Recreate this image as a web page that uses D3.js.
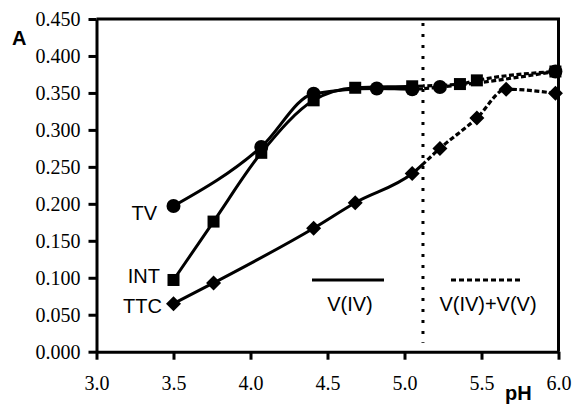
<!DOCTYPE html>
<html><head><meta charset="utf-8">
<script src="https://cdn.jsdelivr.net/npm/d3@7"></script>
<style>body{margin:0;background:#fff}svg{display:block}
.tk text{font-family:"Liberation Serif","Times New Roman",serif;font-size:20px;fill:#000}
.sn{font-family:"Liberation Sans",Arial,sans-serif;font-size:20px;fill:#000}
</style>
</head><body>
<svg id="c" width="574" height="408"></svg>
<script>
const xTicks = [3.0, 3.5, 4.0, 4.5, 5.0, 5.5, 6.0];
const yTicks = [0, 0.05, 0.1, 0.15, 0.2, 0.25, 0.3, 0.35, 0.4, 0.45];
const tvPH = [3.5, 4.07, 4.41, 4.82, 5.05, 5.23, 5.98];
const tvA = [0.197, 0.277, 0.349, 0.356, 0.355, 0.358, 0.379];
const intPH = [3.5, 3.76, 4.07, 4.41, 4.68, 5.05, 5.36, 5.47, 5.98];
const intA = [0.097, 0.176, 0.269, 0.340, 0.357, 0.359, 0.362, 0.367, 0.379];
const ttcPH = [3.5, 3.76, 4.41, 4.68, 5.05, 5.23, 5.47, 5.66, 5.98];
const ttcA = [0.065, 0.093, 0.167, 0.2015, 0.241, 0.275, 0.316, 0.355, 0.3495];
const splitPH = 5.12;
const seriesNames = ["TV", "INT", "TTC"];
const legendLabels = ["V(IV)", "V(IV)+V(V)"];

const svg = d3.select("#c");
const x = d3.scaleLinear().domain([3, 6]).range([96.5, 558.5]);
const y = d3.scaleLinear().domain([0, 0.45]).range([351.7, 19]);

svg.append("line").attr("x1", x(3)).attr("x2", x(6) + 1.5).attr("y1", y(0.45)).attr("y2", y(0.45)).attr("stroke", "#000").attr("stroke-width", 3);
svg.append("line").attr("x1", x(6)).attr("x2", x(6)).attr("y1", y(0.45)).attr("y2", y(0)).attr("stroke", "#000").attr("stroke-width", 3);

const ax = svg.append("g").attr("class", "tk").attr("transform", `translate(0,${y(0)})`)
  .call(d3.axisBottom(x).tickValues(xTicks).tickFormat(d3.format(".1f")).tickSize(8).tickSizeOuter(0).tickPadding(16));
const ay = svg.append("g").attr("class", "tk").attr("transform", `translate(${x(3)},0)`)
  .call(d3.axisLeft(y).tickValues(yTicks).tickFormat(d3.format(".3f")).tickSize(8).tickSizeOuter(0).tickPadding(8));
[ax, ay].forEach(g => {
  g.attr("font-family", null).attr("font-size", null);
  g.selectAll("path,line").attr("stroke", "#000").attr("stroke-width", 3);
});

svg.append("line").attr("x1", x(splitPH)).attr("x2", x(splitPH)).attr("y1", y(0.45) + 4).attr("y2", y(0.012))
  .attr("stroke", "#000").attr("stroke-width", 3).attr("stroke-dasharray", "3,8");

const defs = svg.append("defs");
defs.append("clipPath").attr("id", "left").append("rect").attr("x", 0).attr("y", 0).attr("width", x(splitPH)).attr("height", 408);
defs.append("clipPath").attr("id", "right").append("rect").attr("x", x(splitPH)).attr("y", 0).attr("width", 574 - x(splitPH)).attr("height", 408);

const line = d3.line().x(d => x(d[0])).y(d => y(d[1])).curve(d3.curveMonotoneX);
const series = [
  {name: "TV", pts: d3.zip(tvPH, tvA), shape: "circle"},
  {name: "INT", pts: d3.zip(intPH, intA), shape: "square"},
  {name: "TTC", pts: d3.zip(ttcPH, ttcA), shape: "diamond"}
];
series.forEach(s => {
  svg.append("path").attr("d", line(s.pts)).attr("fill", "none").attr("stroke", "#000").attr("stroke-width", 3).attr("clip-path", "url(#left)");
  svg.append("path").attr("d", line(s.pts)).attr("fill", "none").attr("stroke", "#000").attr("stroke-width", 3.2).attr("stroke-dasharray", "5,2.5").attr("clip-path", "url(#right)");
});
series.forEach(s => {
  const g = svg.append("g").attr("fill", "#000");
  s.pts.forEach(p => {
    const cx = x(p[0]), cy = y(p[1]);
    if (s.shape === "circle") g.append("circle").attr("cx", cx).attr("cy", cy).attr("r", 7);
    else if (s.shape === "square") g.append("rect").attr("x", cx - 6).attr("y", cy - 6).attr("width", 12).attr("height", 12);
    else g.append("path").attr("d", `M${cx},${cy - 7.5}L${cx + 7.5},${cy}L${cx},${cy + 7.5}L${cx - 7.5},${cy}Z`);
  });
});

svg.append("text").attr("class", "sn").text(seriesNames[0]).attr("x", 157).attr("y", 220).attr("text-anchor", "end");
svg.append("text").attr("class", "sn").text(seriesNames[1]).attr("x", 160).attr("y", 283).attr("text-anchor", "end");
svg.append("text").attr("class", "sn").text(seriesNames[2]).attr("x", 162).attr("y", 313).attr("text-anchor", "end");

svg.append("line").attr("x1", 312).attr("x2", 384).attr("y1", 280).attr("y2", 280).attr("stroke", "#000").attr("stroke-width", 3);
svg.append("line").attr("x1", 451).attr("x2", 523).attr("y1", 280).attr("y2", 280).attr("stroke", "#000").attr("stroke-width", 3).attr("stroke-dasharray", "5,3");
svg.append("text").attr("class", "sn").text(legendLabels[0]).attr("x", 350).attr("y", 311).attr("text-anchor", "middle");
svg.append("text").attr("class", "sn").text(legendLabels[1]).attr("x", 488).attr("y", 311).attr("text-anchor", "middle");

svg.append("text").attr("class", "sn").text("A").attr("x", 12).attr("y", 45).attr("font-weight", "bold");
svg.append("text").attr("class", "sn").text("pH").attr("x", 505).attr("y", 400).attr("font-weight", "bold");
</script>
</body></html>
